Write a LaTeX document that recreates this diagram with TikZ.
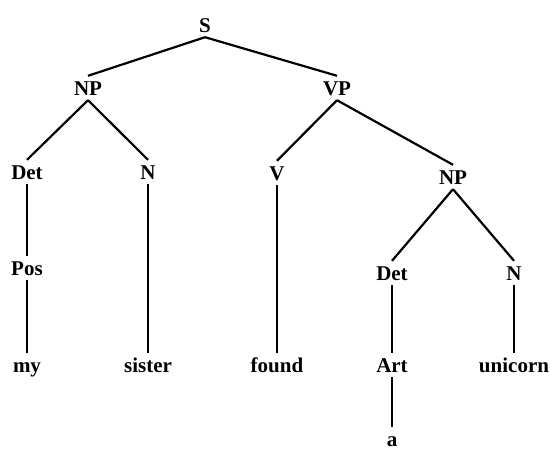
\documentclass[tikz,border=0pt]{standalone}
\usepackage{fontspec}
\setmainfont{Liberation Serif}
\begin{document}
\begin{tikzpicture}[x=1pt,y=-1pt,
  lab/.style={font=\fontsize{21}{21}\selectfont\bfseries, text height=14pt, text depth=0pt, inner xsep=0pt, inner ysep=5pt, anchor=center},
  edge/.style={line width=2.2pt}]
\useasboundingbox (0,0) rectangle (550,455);
\node[lab] (S) at (205,25) {S};
\node[lab] (NPa) at (88,88) {NP};
\node[lab] (VP) at (337,88) {VP};
\node[lab] (Deta) at (27,172) {Det};
\node[lab] (Na) at (148,172) {N};
\node[lab] (V) at (277,173) {V};
\node[lab] (NPb) at (453,177) {NP};
\node[lab] (Pos) at (27,268) {Pos};
\node[lab] (Detb) at (392,273) {Det};
\node[lab] (Nb) at (514,273) {N};
\node[lab] (my) at (27,365) {my};
\node[lab] (sister) at (148,365) {sister};
\node[lab] (found) at (277,365) {found};
\node[lab] (Art) at (392,365) {Art};
\node[lab] (unicorn) at (514,365) {unicorn};
\node[lab] (a) at (392,439) {a};
\draw[edge] (S.south) -- (NPa.north);
\draw[edge] (S.south) -- (VP.north);
\draw[edge] (NPa.south) -- (Deta.north);
\draw[edge] (NPa.south) -- (Na.north);
\draw[edge] (VP.south) -- (V.north);
\draw[edge] (VP.south) -- (NPb.north);
\draw[edge] (NPb.south) -- (Detb.north);
\draw[edge] (NPb.south) -- (Nb.north);
\draw[edge] (Deta.south) -- (Pos.north);
\draw[edge] (Pos.south) -- (my.north);
\draw[edge] (Na.south) -- (sister.north);
\draw[edge] (V.south) -- (found.north);
\draw[edge] (Detb.south) -- (Art.north);
\draw[edge] (Art.south) -- (a.north);
\draw[edge] (Nb.south) -- (unicorn.north);
\end{tikzpicture}
\end{document}
